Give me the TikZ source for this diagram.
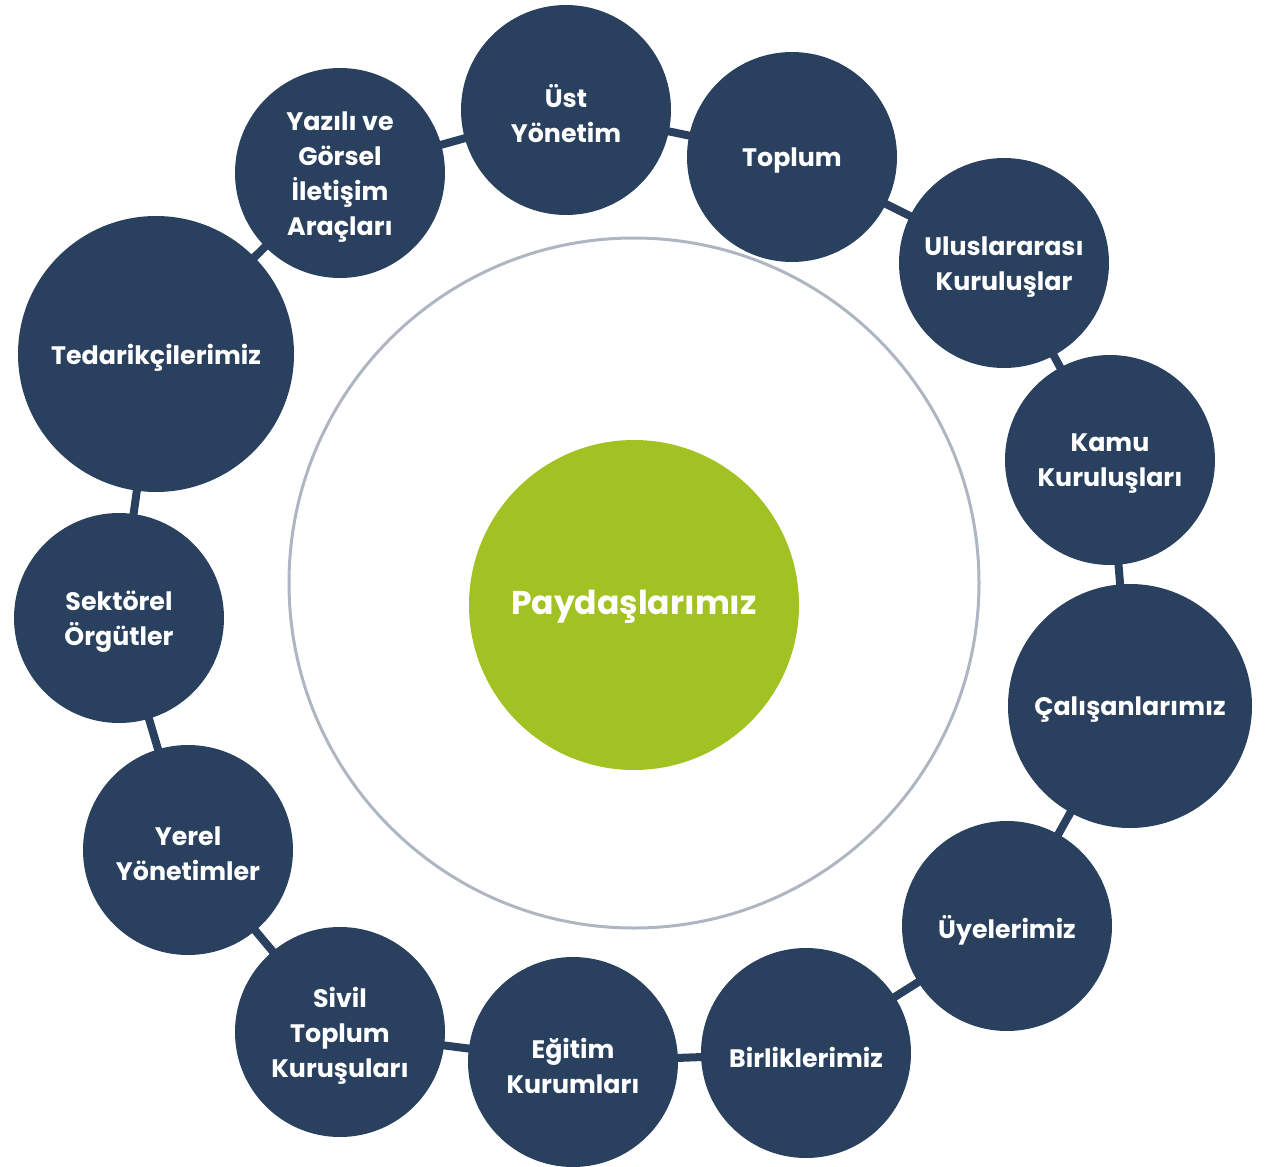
\documentclass[tikz,border=0pt]{standalone}
\usepackage{fontspec}
\setmainfont{Poppins}
\definecolor{navy}{HTML}{29405E}
\definecolor{lime}{HTML}{A2C224}
\definecolor{ring}{HTML}{AEB6C1}
\begin{document}
\begin{tikzpicture}[x=1pt,y=-1pt,
  st/.style={circle,fill=navy,inner sep=0pt,minimum size=210pt},
  big/.style={st,minimum size=244pt},
  huge/.style={st,minimum size=276pt},
  lbl/.style={text=white,font=\fontsize{25.3}{35}\selectfont\bfseries,align=center,inner sep=0pt},
  link/.style={draw=navy,line width=8pt}]
\useasboundingbox (0,0) rectangle (1286,1167);
\draw[ring,line width=3pt] (634,583) circle (345);
\coordinate (c1) at (566,110);
\coordinate (c2) at (792,157);
\coordinate (c3) at (1004,263);
\coordinate (c4) at (1110,460);
\coordinate (c5) at (1130,706);
\coordinate (c6) at (1007,926);
\coordinate (c7) at (806,1053);
\coordinate (c8) at (573,1062);
\coordinate (c9) at (340,1032);
\coordinate (c10) at (188,850);
\coordinate (c11) at (119,618);
\coordinate (c12) at (156,354);
\coordinate (c13) at (340,173);
\draw[link] (c1)--(c2)--(c3)--(c4)--(c5)--(c6)--(c7)--(c8)--(c9)--(c10)--(c11)--(c12)--(c13)--(c1);
\node[circle,fill=lime,minimum size=330pt] (center) at (634,605) {};
\node[text=white,font=\fontsize{33}{38}\selectfont\bfseries] (tc) at ([yshift=-2pt]center.center) {Paydaşlarımız};
\node[st] (n1) at (c1) {};
\node[st] (n2) at (c2) {};
\node[st] (n3) at (c3) {};
\node[st] (n4) at (c4) {};
\node[big] (n5) at (c5) {};
\node[st] (n6) at (c6) {};
\node[st] (n7) at (c7) {};
\node[st] (n8) at (c8) {};
\node[st] (n9) at (c9) {};
\node[st] (n10) at (c10) {};
\node[st] (n11) at (c11) {};
\node[huge] (n12) at (c12) {};
\node[st] (n13) at (c13) {};
\node[lbl] (t1) at ([yshift=-4pt]n1.center) {Üst\\Yönetim};
\node[lbl] (t2) at ([yshift=-4pt]n2.center) {Toplum};
\node[lbl] (t3) at ([yshift=-4pt]n3.center) {Uluslararası\\Kuruluşlar};
\node[lbl] (t4) at ([yshift=-4pt]n4.center) {Kamu\\Kuruluşları};
\node[lbl] (t5) at ([yshift=-4pt]n5.center) {Çalışanlarımız};
\node[lbl] (t6) at ([yshift=-4pt]n6.center) {Üyelerimiz};
\node[lbl] (t7) at ([yshift=-4pt]n7.center) {Birliklerimiz};
\node[lbl] (t8) at ([yshift=-4pt]n8.center) {Eğitim\\Kurumları};
\node[lbl] (t9) at ([yshift=-4pt]n9.center) {Sivil\\Toplum\\Kuruşuları};
\node[lbl] (t10) at ([yshift=-4pt]n10.center) {Yerel\\Yönetimler};
\node[lbl] (t11) at ([yshift=-4pt]n11.center) {Sektörel\\Örgütler};
\node[lbl] (t12) at ([yshift=-4pt]n12.center) {Tedarikçilerimiz};
\node[lbl] (t13) at ([yshift=-4pt]n13.center) {Yazılı ve\\Görsel\\İletişim\\Araçları};
\end{tikzpicture}
\end{document}
